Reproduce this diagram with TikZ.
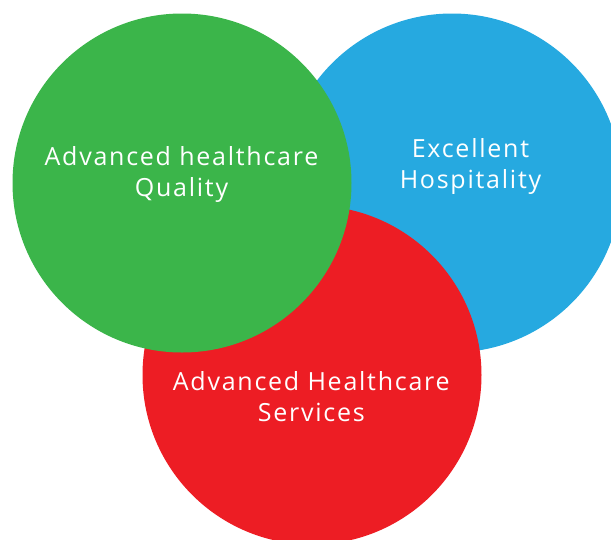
\documentclass[tikz,border=0pt]{standalone}
\usepackage{fontspec}
\setmainfont{Open Sans}
\newfontfamily\labfont[LetterSpace=7]{Open Sans}
\definecolor{cgreen}{RGB}{59,181,74}
\definecolor{cblue}{RGB}{38,169,224}
\definecolor{cred}{RGB}{237,29,36}
\tikzset{
  disc/.style={circle, inner sep=0pt, minimum size=339pt, draw=none},
  lab/.style={text=white, align=center, inner sep=0pt, anchor=base,
    font=\labfont\fontsize{25}{31}\selectfont}
}
\begin{document}
\begin{tikzpicture}[x=1pt,y=-1pt]
\useasboundingbox (0,0) rectangle (611,539);
\clip (0,0) rectangle (611,539);
\node[disc, fill=cblue] (blue) at (452,183) {};
\node[disc, fill=cred] (red) at (312,375) {};
\node[disc, fill=cgreen] (green) at (182,183) {};
\node[lab] (lgreen) at (181.5,196) {Advanced healthcare\\Quality};
\node[lab] (lblue) at (470.5,188.5) {Excellent\\Hospitality};
\node[lab] (lred) at (311.3,421) {Advanced Healthcare\\Services};
\end{tikzpicture}
\end{document}
